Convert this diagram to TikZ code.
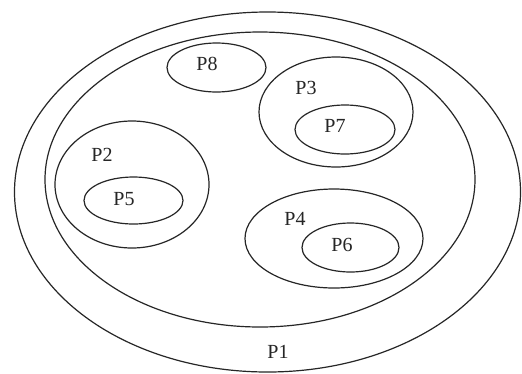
\documentclass[tikz,border=0pt]{standalone}
\usepackage{fontspec}
\setmainfont{Liberation Serif}
\begin{document}
\begin{tikzpicture}[x=1pt,y=-1pt,
  ring/.style={draw=black!85,line width=1.2pt},
  lbl/.style={font=\fontsize{20}{22}\selectfont,inner sep=0pt,text=black!85}]
\useasboundingbox (0,0) rectangle (522,373);
\fill[white] (0,0) rectangle (522,373);
% outer and inner big ellipses
\draw[ring] (267.5,192) ellipse [x radius=253, y radius=180];
\draw[ring] (260,179.5) ellipse [x radius=215, y radius=147.5];
% P8
\draw[ring] (216.5,67.5) ellipse [x radius=49.5, y radius=24.5];
% P3 and P7
\draw[ring] (336,112) ellipse [x radius=77, y radius=55];
\draw[ring] (345,129.5) ellipse [x radius=50, y radius=24.5];
% P2 and P5
\draw[ring] (132,184.5) ellipse [x radius=77, y radius=63.5];
\draw[ring] (133.5,200.5) ellipse [x radius=49.5, y radius=23.5];
% P4 and P6
\draw[ring] (334,238.5) ellipse [x radius=89, y radius=49.5];
\draw[ring] (350.5,247.5) ellipse [x radius=48.5, y radius=24.5];
% labels
\node[lbl] (p8) at (207,64) {P8};
\node[lbl] (p3) at (306,88) {P3};
\node[lbl] (p7) at (335,126) {P7};
\node[lbl] (p2) at (102,155) {P2};
\node[lbl] (p5) at (124,199) {P5};
\node[lbl] (p4) at (295,219) {P4};
\node[lbl] (p6) at (342,245) {P6};
\node[lbl] (p1) at (278,352) {P1};
\end{tikzpicture}
\end{document}
